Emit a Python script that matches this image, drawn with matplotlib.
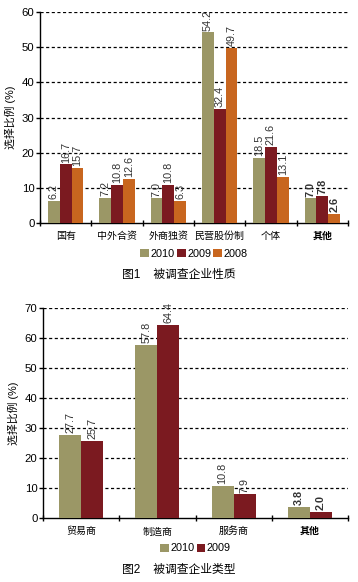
import numpy as np
import matplotlib
matplotlib.use("Agg")
import matplotlib.pyplot as plt

plt.rcParams['font.family'] = ['Liberation Sans', 'Noto Sans CJK SC', 'DejaVu Sans']

# figure 1 data
cats1 = ['国有', '中外合资', '外商独资', '民营股份制', '个体', '其他']
v2010_1 = [6.2, 7.2, 7.0, 54.2, 18.5, 7.0]
v2009_1 = [16.7, 10.8, 10.8, 32.4, 21.6, 7.8]
v2008_1 = [15.7, 12.6, 6.3, 49.7, 13.1, 2.6]

# figure 2 data
cats2 = ['贸易商', '制造商', '服务商', '其他']
v2010_2 = [27.7, 57.8, 10.8, 3.8]
v2009_2 = [25.7, 64.4, 7.9, 2.0]

years1 = ['2010', '2009', '2008']
years2 = ['2010', '2009']
colors = ['#9b9766', '#7b1a20', '#c8661f']

W, H = 358, 582
fig = plt.figure(figsize=(W / 100, H / 100), dpi=100)


def draw(ax, cats, series, years, width, ymax, step):
    n = len(cats)
    x = np.arange(n)
    k = len(series)
    for i, (vals, yr) in enumerate(zip(series, years)):
        pos = x + (i - (k - 1) / 2) * width
        ax.bar(pos, vals, width=width, color=colors[i], label=yr, zorder=3)
        for j, (p, v) in enumerate(zip(pos, vals)):
            bold = cats[j] == '其他'
            ax.text(p, v + 0.5 * ymax / 60, f'{v:.1f}', rotation=90, ha='center', va='bottom',
                    fontsize=7.8, color='#333333', fontweight='bold' if bold else 'normal',
                    zorder=4, clip_on=False)
    ax.set_xlim(-0.5, n - 0.5)
    ax.set_ylim(0, ymax)
    ax.set_yticks(np.arange(0, ymax + 1, step))
    ax.tick_params(axis='y', labelsize=8.2, length=3, width=1, pad=1)
    ax.set_xticks(x)
    for lbl in ax.set_xticklabels(cats, fontsize=7.2):
        if lbl.get_text() == '其他':
            lbl.set_fontweight('bold')
    ax.tick_params(axis='x', which='major', length=0, pad=6)
    ax.set_xticks(np.arange(-0.5, n), minor=True)
    ax.tick_params(axis='x', which='minor', length=5, width=1, direction='inout')
    for yv in np.arange(step, ymax + 1, step):
        ax.axhline(yv, color='black', lw=0.9, ls=(0, (2.5, 2)), zorder=1)
    for s in ['top', 'right']:
        ax.spines[s].set_visible(False)
    ax.spines['left'].set_linewidth(1)
    ax.spines['bottom'].set_linewidth(1)
    ax.set_ylabel('选择比例 (%)', fontsize=7.8, labelpad=4)


ax1 = fig.add_axes([40 / W, (H - 223) / H, 308 / W, 211 / H])
draw(ax1, cats1, [v2010_1, v2009_1, v2008_1], years1, 0.23, 60, 10)
ax1.legend(loc='center', bbox_to_anchor=(0.5, -0.145), ncol=3, frameon=False, fontsize=7.8,
           handlelength=0.8, handleheight=0.8, handletextpad=0.15, columnspacing=0.2,
           bbox_transform=ax1.transAxes)
fig.text(0.5, 1 - 275 / H, '图1    被调查企业性质', ha='center', va='center', fontsize=8.5)

ax2 = fig.add_axes([43 / W, (H - 518) / H, 305 / W, 210 / H])
draw(ax2, cats2, [v2010_2, v2009_2], years2, 0.29, 70, 10)
ax2.legend(loc='center', bbox_to_anchor=(0.5, -0.145), ncol=2, frameon=False, fontsize=7.8,
           handlelength=0.8, handleheight=0.8, handletextpad=0.15, columnspacing=0.2,
           bbox_transform=ax2.transAxes)
fig.text(0.5, 1 - 570 / H, '图2    被调查企业类型', ha='center', va='center', fontsize=8.5)

fig.savefig('out.png', dpi=100)
